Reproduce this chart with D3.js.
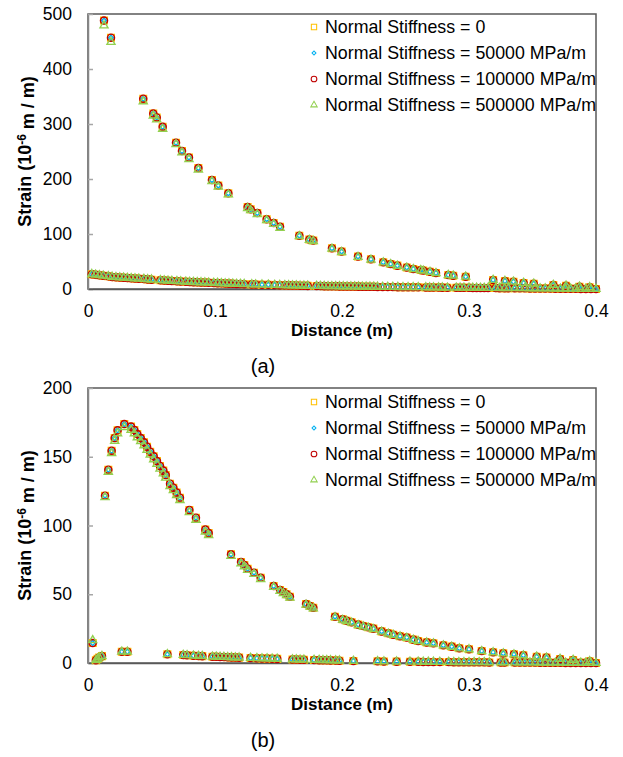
<!DOCTYPE html>
<html lang="en">
<head>
  <meta charset="UTF-8">
  <title>Strain vs distance</title>
  <script src="https://cdn.jsdelivr.net/npm/d3@7"></script>
  <style>
    body { margin: 0; background: #fff; }
    svg text { font-family: "Liberation Sans", Arial, sans-serif; fill: #000; }
  </style>
</head>
<body>
<svg id="chart" width="623" height="757"></svg>
<script>
// ---- series / ticks ----
var seriesNames = ["Normal Stiffness = 0", "Normal Stiffness = 50000 MPa/m",
                   "Normal Stiffness = 100000 MPa/m", "Normal Stiffness = 500000 MPa/m"];
var xTicks = [0, 0.1, 0.2, 0.3, 0.4];
var yTicksA = [0, 100, 200, 300, 400, 500];
var yTicksB = [0, 50, 100, 150, 200];

// ---- panel (a): upper branch ----
var distA_upper = [0.0126,0.0181,0.0435,0.0514,0.0541,0.0588,0.0693,0.074,0.0795,0.0869,
  0.0976,0.1026,0.1105,0.1257,0.1281,0.1333,0.1407,0.1462,0.1512,0.1664,
  0.1743,0.1774,0.1921,0.1997,0.2126,0.2228,0.2325,0.2383,0.2436,0.251,
  0.2562,0.262,0.264,0.2693,0.274,0.2837,0.2876,0.2974,0.319,0.3283,
  0.335,0.343,0.351,0.3664,0.3764,0.387,0.395];
var strainA_upper = [488,457,346,319,312,295,266,251,239,220,
  198,188,174,149,145,138,127,120,113,97,
  90,88,74,68,59,54,48.5,45.5,42.5,39,
  36.5,34.5,33.5,31.5,29,25.5,24.2,22.4,16.4,14.5,
  13.3,11,9.7,7.3,6,4,3];
var strainA_upper_500k = [479,449,341,315,308,291,263,248,236,217,
  196,186,172,147,143,136,125,118,111,96,
  89,87,73,67,58,53,48,45,42,38.5,
  36,34,33,31,28.7,25.2,24,22.2,16.2,14.3,
  13.1,10.9,9.6,7.2,5.9,3.9,3];

// ---- panel (a): lower branch ----
var distA_lower = [0.003,0.006,0.009,0.012,0.016,0.019,0.022,0.025,0.028,0.031,
  0.034,0.037,0.040,0.044,0.047,0.050,0.057,0.060,0.063,0.066,
  0.070,0.073,0.077,0.080,0.083,0.086,0.089,0.092,0.095,0.099,
  0.102,0.105,0.108,0.111,0.114,0.117,0.120,0.123,0.129,0.132,
  0.137,0.142,0.147,0.151,0.155,0.158,0.161,0.164,0.167,0.170,
  0.173,0.180,0.183,0.186,0.189,0.192,0.195,0.198,0.201,0.204,
  0.207,0.210,0.213,0.216,0.219,0.222,0.225,0.228,0.232,0.236,
  0.240,0.244,0.248,0.252,0.256,0.260,0.266,0.269,0.272,0.276,
  0.279,0.283,0.290,0.293,0.296,0.300,0.303,0.306,0.309,0.312,
  0.315,0.321,0.324,0.328,0.331,0.336,0.340,0.344,0.348,0.352,
  0.356,0.360,0.364,0.368,0.372,0.376,0.380,0.384,0.388,0.392,
  0.396,0.400];
var strainA_lower = [27,26,25,24,23,22,21.5,21,20.5,20,
  19.5,19,18.5,18,17.5,17,16,15.5,15,14.5,
  14,13.5,13,12.8,12.5,12.2,12,11.7,11.4,11,
  10.7,10.4,10.1,9.8,9.5,9.2,9,8.8,8.4,8.2,
  7.9,7.6,7.3,7,6.8,6.6,6.4,6.2,6,5.9,
  5.7,5.4,5.3,5.2,5.1,5,4.9,4.8,4.7,4.6,
  4.5,4.4,4.3,4.2,4.1,4,3.9,3.8,3.7,3.6,
  3.5,3.4,3.3,3.2,3.1,3,2.9,2.8,2.7,2.6,
  2.5,2.4,2.3,2.2,2.2,2.1,2,2,1.9,1.8,
  1.8,1.7,1.6,1.5,1.5,1.4,1.3,1.2,1.1,1,
  0.9,0.8,0.8,0.7,0.6,0.5,0.4,0.3,0.2,0.1,
  0.1,0];

// ---- panel (b): upper branch ----
var distB_upper = [0.0134,0.016,0.0186,0.021,0.0233,0.0286,0.0339,0.0365,0.0388,0.0415,
  0.0441,0.0465,0.049,0.0517,0.0543,0.0567,0.0593,0.0612,0.0646,0.0672,
  0.0698,0.0724,0.0798,0.085,0.0924,0.095,0.1126,0.1205,0.1231,0.1257,
  0.1307,0.136,0.1462,0.1512,0.1538,0.1564,0.159,0.1717,0.1748,0.1774,
  0.1945,0.2005,0.2037,0.2076,0.2128,0.2168,0.2207,0.2247,0.2312,0.2365,
  0.2404,0.2457,0.251,0.2562,0.26,0.2667,0.272,0.2798,0.2864,0.2924,
  0.30,0.31,0.319,0.327,0.3354,0.3428,0.3533,0.361,0.3717,0.382,
  0.395];
var strainB_upper = [121.7,140.6,154.4,163.6,169.2,173.8,171.9,169.5,166.5,163.6,
  160.5,157.3,153.7,150.3,146.9,143.3,139.9,136.7,130.4,127.5,
  123.9,120.2,111.3,105.7,97,94.5,79,73.5,71.3,68.6,
  65.7,62,56,53.1,51.6,50,48.2,42.9,41.5,40.2,
  33.7,31.8,30.8,29.6,27.9,26.9,26,25,23,21.6,
  20.6,19.5,18.5,17,16,15,14.3,12.9,11.9,10.7,
  10,8.7,7.8,7,6.3,5.6,4.6,3.9,2.9,2.2,
  1.2];
var strainB_upper_500k = [120.5,139,152.5,161.5,167,171.5,169.5,167,164,161.3,
  158.2,155,151.5,148,144.8,141.2,137.8,134.7,128.5,125.6,
  122,118.4,109.6,104,95.5,93,77.8,72.4,70.2,67.6,
  64.7,61,55.2,52.3,50.8,49.2,47.5,42.3,40.9,39.6,
  33.2,31.3,30.3,29.2,27.5,26.5,25.6,24.6,22.7,21.3,
  20.3,19.2,18.2,16.8,15.8,14.8,14.1,12.7,11.7,10.5,
  9.9,8.6,7.7,6.9,6.2,5.5,4.5,3.8,2.9,2.2,
  1.2];

// ---- panel (b): lower branch ----
var distB_lower = [0.0037,0.0062,0.0075,0.0088,0.011,0.0266,0.031,0.0625,0.075,0.078,
  0.083,0.087,0.090,0.098,0.101,0.104,0.107,0.110,0.113,0.116,
  0.119,0.128,0.133,0.137,0.141,0.145,0.149,0.161,0.164,0.167,
  0.170,0.178,0.182,0.185,0.188,0.191,0.195,0.198,0.209,0.228,
  0.233,0.243,0.2535,0.260,0.264,0.268,0.272,0.277,0.284,0.288,
  0.292,0.296,0.300,0.304,0.308,0.312,0.316,0.325,0.328,0.336,
  0.340,0.344,0.348,0.352,0.356,0.360,0.364,0.368,0.372,0.376,
  0.380,0.384,0.388,0.392,0.396,0.400];
var strainB_lower = [14.5,2,3,4,5,8.2,8.2,6.3,5.8,5.6,
  5.3,5.1,5,4.6,4.5,4.4,4.3,4.2,4.1,4,
  3.9,3.6,3.4,3.3,3.2,3.1,3,2.6,2.5,2.4,
  2.4,2.2,2.1,2,2,1.9,1.8,1.7,1.5,1.2,
  1.1,1,0.9,0.9,0.8,0.8,0.8,0.7,0.7,0.6,
  0.6,0.6,0.5,0.5,0.5,0.5,0.4,0.4,0.4,0.3,
  0.3,0.3,0.3,0.3,0.2,0.2,0.2,0.2,0.2,0.1,
  0.1,0.1,0.1,0.1,0,0];
var strainB_lower_500k = [16.5,2,3,4,5,8.2,8.2,6.3,5.8,5.6,
  5.3,5.1,5,4.6,4.5,4.4,4.3,4.2,4.1,4,
  3.9,3.6,3.4,3.3,3.2,3.1,3,2.6,2.5,2.4,
  2.4,2.2,2.1,2,2,1.9,1.8,1.7,1.5,1.2,
  1.1,1,0.9,0.9,0.8,0.8,0.8,0.7,0.7,0.6,
  0.6,0.6,0.5,0.5,0.5,0.5,0.4,0.4,0.4,0.3,
  0.3,0.3,0.3,0.3,0.2,0.2,0.2,0.2,0.2,0.1,
  0.1,0.1,0.1,0.1,0,0];

// marker look per series: square, diamond, circle, triangle
var colors = ["#FFC000", "#00B0F0", "#C00000", "#92D050"];
var symbols = [
  d3.symbol().type(d3.symbolSquare).size(44),
  d3.symbol().type(d3.symbolSquare).size(12),   // rotated 45deg -> diamond
  d3.symbol().type(d3.symbolCircle).size(40),
  d3.symbol().type(d3.symbolTriangle).size(28)
];
var rotations = [0, 45, 0, 0];

var svg = d3.select("#chart");

function zip(xs, ys) {
  return xs.map(function(d, i) { return { x: d, y: ys[i] }; });
}

function drawPanel(p) {
  var x = d3.scaleLinear().domain([0, 0.4]).range([88, 596]);
  var y = d3.scaleLinear().domain([0, p.yMax]).range([p.bottom, p.top]);
  var g = svg.append("g");

  // plot area frame
  g.append("rect")
    .attr("x", 88).attr("y", p.top)
    .attr("width", 508).attr("height", p.bottom - p.top)
    .attr("fill", "none").attr("stroke", "#595959").attr("stroke-width", 1.5);

  // y axis, ticks pointing inside
  var ya = g.append("g").attr("transform", "translate(88,0)")
    .call(d3.axisLeft(y).tickValues(p.yTicks).tickSizeInner(-5).tickSizeOuter(0).tickPadding(16));
  ya.select(".domain").attr("stroke", "#868686").attr("stroke-width", 1.5);
  ya.selectAll(".tick line").attr("stroke", "#a6a6a6").attr("stroke-width", 1.5);
  ya.selectAll(".tick text").attr("font-size", 17.5).attr("font-family", null);

  // x axis
  var xa = g.append("g").attr("transform", "translate(0," + p.bottom + ")")
    .call(d3.axisBottom(x).tickValues(xTicks).tickSize(0).tickPadding(16)
      .tickFormat(function(d) { return String(d); }));
  xa.select(".domain").attr("stroke", "#595959").attr("stroke-width", 1.5);
  xa.selectAll(".tick text").attr("font-size", 17.5).attr("font-family", null);

  // axis titles
  g.append("text").attr("x", 342).attr("y", p.bottom + 47)
    .attr("text-anchor", "middle").attr("font-size", 17).attr("font-weight", "bold")
    .text("Distance (m)");

  var yt = g.append("text")
    .attr("transform", "translate(31," + ((p.top + p.bottom) / 2) + ") rotate(-90)")
    .attr("text-anchor", "middle").attr("font-size", 18).attr("font-weight", "bold");
  yt.append("tspan").text("Strain (10");
  yt.append("tspan").attr("dy", "-0.45em").attr("font-size", 12).text("-6");
  yt.append("tspan").attr("dy", "0.45em").text(" m / m)");

  // caption
  g.append("text").attr("x", 263).attr("y", p.bottom + 84)
    .attr("text-anchor", "middle").attr("font-size", 20).text(p.caption);

  // points
  p.series.forEach(function(s, i) {
    var pts = zip(s.upperX, s.upperY).concat(zip(s.lowerX, s.lowerY));
    g.append("g").selectAll("path")
      .data(pts).enter().append("path")
      .attr("d", symbols[i])
      .attr("transform", function(d) {
        return "translate(" + x(d.x) + "," + y(d.y) + ") rotate(" + rotations[i] + ")";
      })
      .attr("fill", "none").attr("stroke", colors[i]).attr("stroke-width", 1.4);
  });

  // legend
  var lg = g.append("g");
  seriesNames.forEach(function(name, i) {
    var cy = p.legendTop + i * 26;
    lg.append("path").attr("d", symbols[i])
      .attr("transform", "translate(314," + cy + ") rotate(" + rotations[i] + ") scale(0.8)")
      .attr("fill", "none").attr("stroke", colors[i]).attr("stroke-width", 1.3);
    lg.append("text").attr("x", 325).attr("y", cy).attr("dy", "0.35em")
      .attr("font-size", 17.8).text(name);
  });
}

drawPanel({
  top: 14, bottom: 289, yMax: 500, yTicks: yTicksA, caption: "(a)", legendTop: 27,
  series: [0, 1, 2, 3].map(function(i) {
    return { upperX: distA_upper, upperY: i === 3 ? strainA_upper_500k : strainA_upper,
             lowerX: distA_lower, lowerY: strainA_lower };
  })
});

drawPanel({
  top: 388, bottom: 663, yMax: 200, yTicks: yTicksB, caption: "(b)", legendTop: 402,
  series: [0, 1, 2, 3].map(function(i) {
    return { upperX: distB_upper, upperY: i === 3 ? strainB_upper_500k : strainB_upper,
             lowerX: distB_lower, lowerY: i === 3 ? strainB_lower_500k : strainB_lower };
  })
});
</script>
</body>
</html>
